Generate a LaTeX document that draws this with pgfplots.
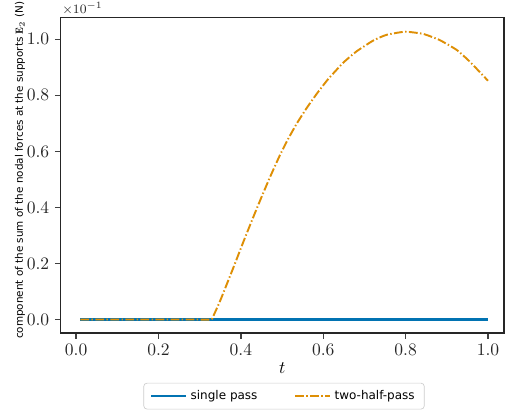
\documentclass[border=0pt]{standalone}
\usepackage{pgfplots}
\pgfplotsset{compat=1.18}
\usepackage{fontspec}
\setsansfont{DejaVu Sans}
\definecolor{cbblue}{RGB}{1,115,178}
\definecolor{cborange}{RGB}{222,143,5}
\begin{document}
\begin{tikzpicture}
\begin{axis}[
  at={(0,0)}, anchor=south west,
  scale only axis,
  width=277.2pt, height=197.3pt,
  xmin=-0.038, xmax=1.039,
  ymin=-0.048, ymax=1.0785,
  xtick={0,0.2,0.4,0.6,0.8,1.0},
  ytick={0,0.2,0.4,0.6,0.8,1.0},
  xticklabel style={/pgf/number format/.cd,fixed,fixed zerofill,precision=1},
  yticklabel style={/pgf/number format/.cd,fixed,fixed zerofill,precision=1},
  ticklabel style={font=\fontsize{10.5}{12}\selectfont, text=black!85},
  tick align=outside, tick pos=left,
  major tick length=3.5pt,
  every tick/.style={line width=0.8pt, black!75},
  axis line style={line width=0.8pt, black!85},
  xlabel={$t$},
  xlabel style={at={(axis description cs:0.5,-0.111)}, anchor=center, font=\fontsize{10.5}{12}\selectfont},
  ylabel={\sffamily\fontsize{6.5}{7}\selectfont component of the sum of the nodal forces at the supports $\mathbf{E}_2$ (N)},
  ylabel style={at={(axis description cs:-0.0913,0.515)}, anchor=center},
  legend columns=2,
  legend style={at={(axis description cs:0.504,-0.2)}, anchor=center,
    draw=black!20, rounded corners=2pt, font=\sffamily\fontsize{7.5}{9}\selectfont,
    inner xsep=4pt, inner ysep=2.5pt,
    /tikz/every even column/.append style={column sep=21pt}},
  legend cell align=left,
  legend image code/.code={\draw[#1] (0pt,0pt) -- (22pt,0pt);},
]
\addplot[draw=cbblue, solid, line width=1.3pt] coordinates {(0.01,0) (0.25,0) (0.5,0) (0.75,0) (1.0,0)};
\addlegendentry{single pass}
\addplot[draw=cborange, line width=1.2pt, dash pattern=on 5.5pt off 1.5pt on 0.9pt off 1.5pt, smooth, tension=0.3] coordinates {
(0.01,0) (0.1,0) (0.2,0) (0.3,0) (0.328,0) (0.333,0.012)
(0.35,0.068) (0.382,0.186) (0.406,0.277) (0.430,0.365) (0.451,0.440)
(0.471,0.509) (0.495,0.587) (0.515,0.645) (0.536,0.700) (0.560,0.755)
(0.584,0.805) (0.612,0.858) (0.649,0.917) (0.681,0.957) (0.722,0.996)
(0.754,1.016) (0.799,1.027) (0.843,1.019) (0.883,0.997) (0.924,0.962)
(0.956,0.920) (1.0,0.852)};
\addlegendentry{two-half-pass}
\end{axis}
\node[anchor=west, inner sep=0pt, font=\fontsize{8}{9}\selectfont, text=black!85] at (1pt,202.6pt) {$\times10^{-1}$};
\pgfresetboundingbox
\path (-37.8pt,-48.15pt) rectangle (277.8pt,208.1pt);
\end{tikzpicture}
\end{document}
